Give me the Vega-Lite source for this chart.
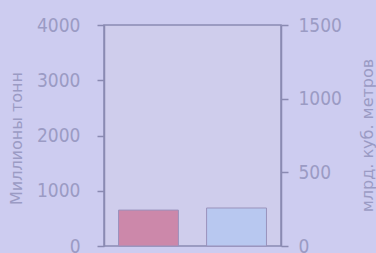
{
  "$schema": "https://vega.github.io/schema/vega-lite/v6.json",
  "autosize": "none",
  "padding": {"left": 104, "top": 25, "right": 95, "bottom": 7},
  "width": 177,
  "height": 221,
  "background": "#cdccf0",
  "config": {
    "view": {"fill": "#cfcdec", "stroke": "#8a8ab2", "strokeWidth": 1.5},
    "axis": {
      "domainColor": "#8a8ab2",
      "domainWidth": 1.5,
      "tickColor": "#8a8ab2",
      "tickWidth": 1.5,
      "tickSize": 7,
      "grid": false,
      "labelFont": "DejaVu Sans Condensed, Liberation Sans, sans-serif",
      "labelFontSize": 19,
      "labelColor": "#9b9bc4",
      "titleFont": "DejaVu Sans, sans-serif",
      "titleFontSize": 16,
      "titleFontWeight": "normal",
      "titleColor": "#9b9bc4",
      "titleAngle": -90,
      "titleAlign": "center",
      "titleBaseline": "middle"
    }
  },
  "data": {
    "values": [
      {"ресурс": "Нефть", "значение": 650, "ось": "тонны"},
      {"ресурс": "Газ", "значение": 258, "ось": "кубометры"}
    ]
  },
  "encoding": {
    "x": {
      "field": "ресурс",
      "type": "nominal",
      "sort": ["Нефть", "Газ"],
      "scale": {"paddingInner": 0.32, "paddingOuter": 0.165},
      "axis": null
    }
  },
  "layer": [
    {
      "transform": [{"filter": "datum['ось'] === 'тонны'"}],
      "mark": {"type": "bar", "color": "#cc88aa", "stroke": "#9a92bc", "strokeWidth": 1},
      "encoding": {
        "y": {
          "field": "значение",
          "type": "quantitative",
          "scale": {"domain": [0, 4000], "nice": false},
          "axis": {
            "orient": "left",
            "values": [0, 1000, 2000, 3000, 4000],
            "format": "d",
            "labelPadding": 17,
            "title": "Миллионы тонн",
            "titleX": -88,
            "titleY": 113
          }
        }
      }
    },
    {
      "transform": [{"filter": "datum['ось'] === 'кубометры'"}],
      "mark": {"type": "bar", "color": "#b8c8f0", "stroke": "#9a92bc", "strokeWidth": 1},
      "encoding": {
        "y": {
          "field": "значение",
          "type": "quantitative",
          "scale": {"domain": [0, 1500], "nice": false},
          "axis": {
            "orient": "right",
            "values": [0, 500, 1000, 1500],
            "format": "d",
            "labelPadding": 10,
            "title": "млрд. куб. метров",
            "titleX": 86,
            "titleY": 110
          }
        }
      }
    }
  ],
  "resolve": {"scale": {"y": "independent"}}
}
